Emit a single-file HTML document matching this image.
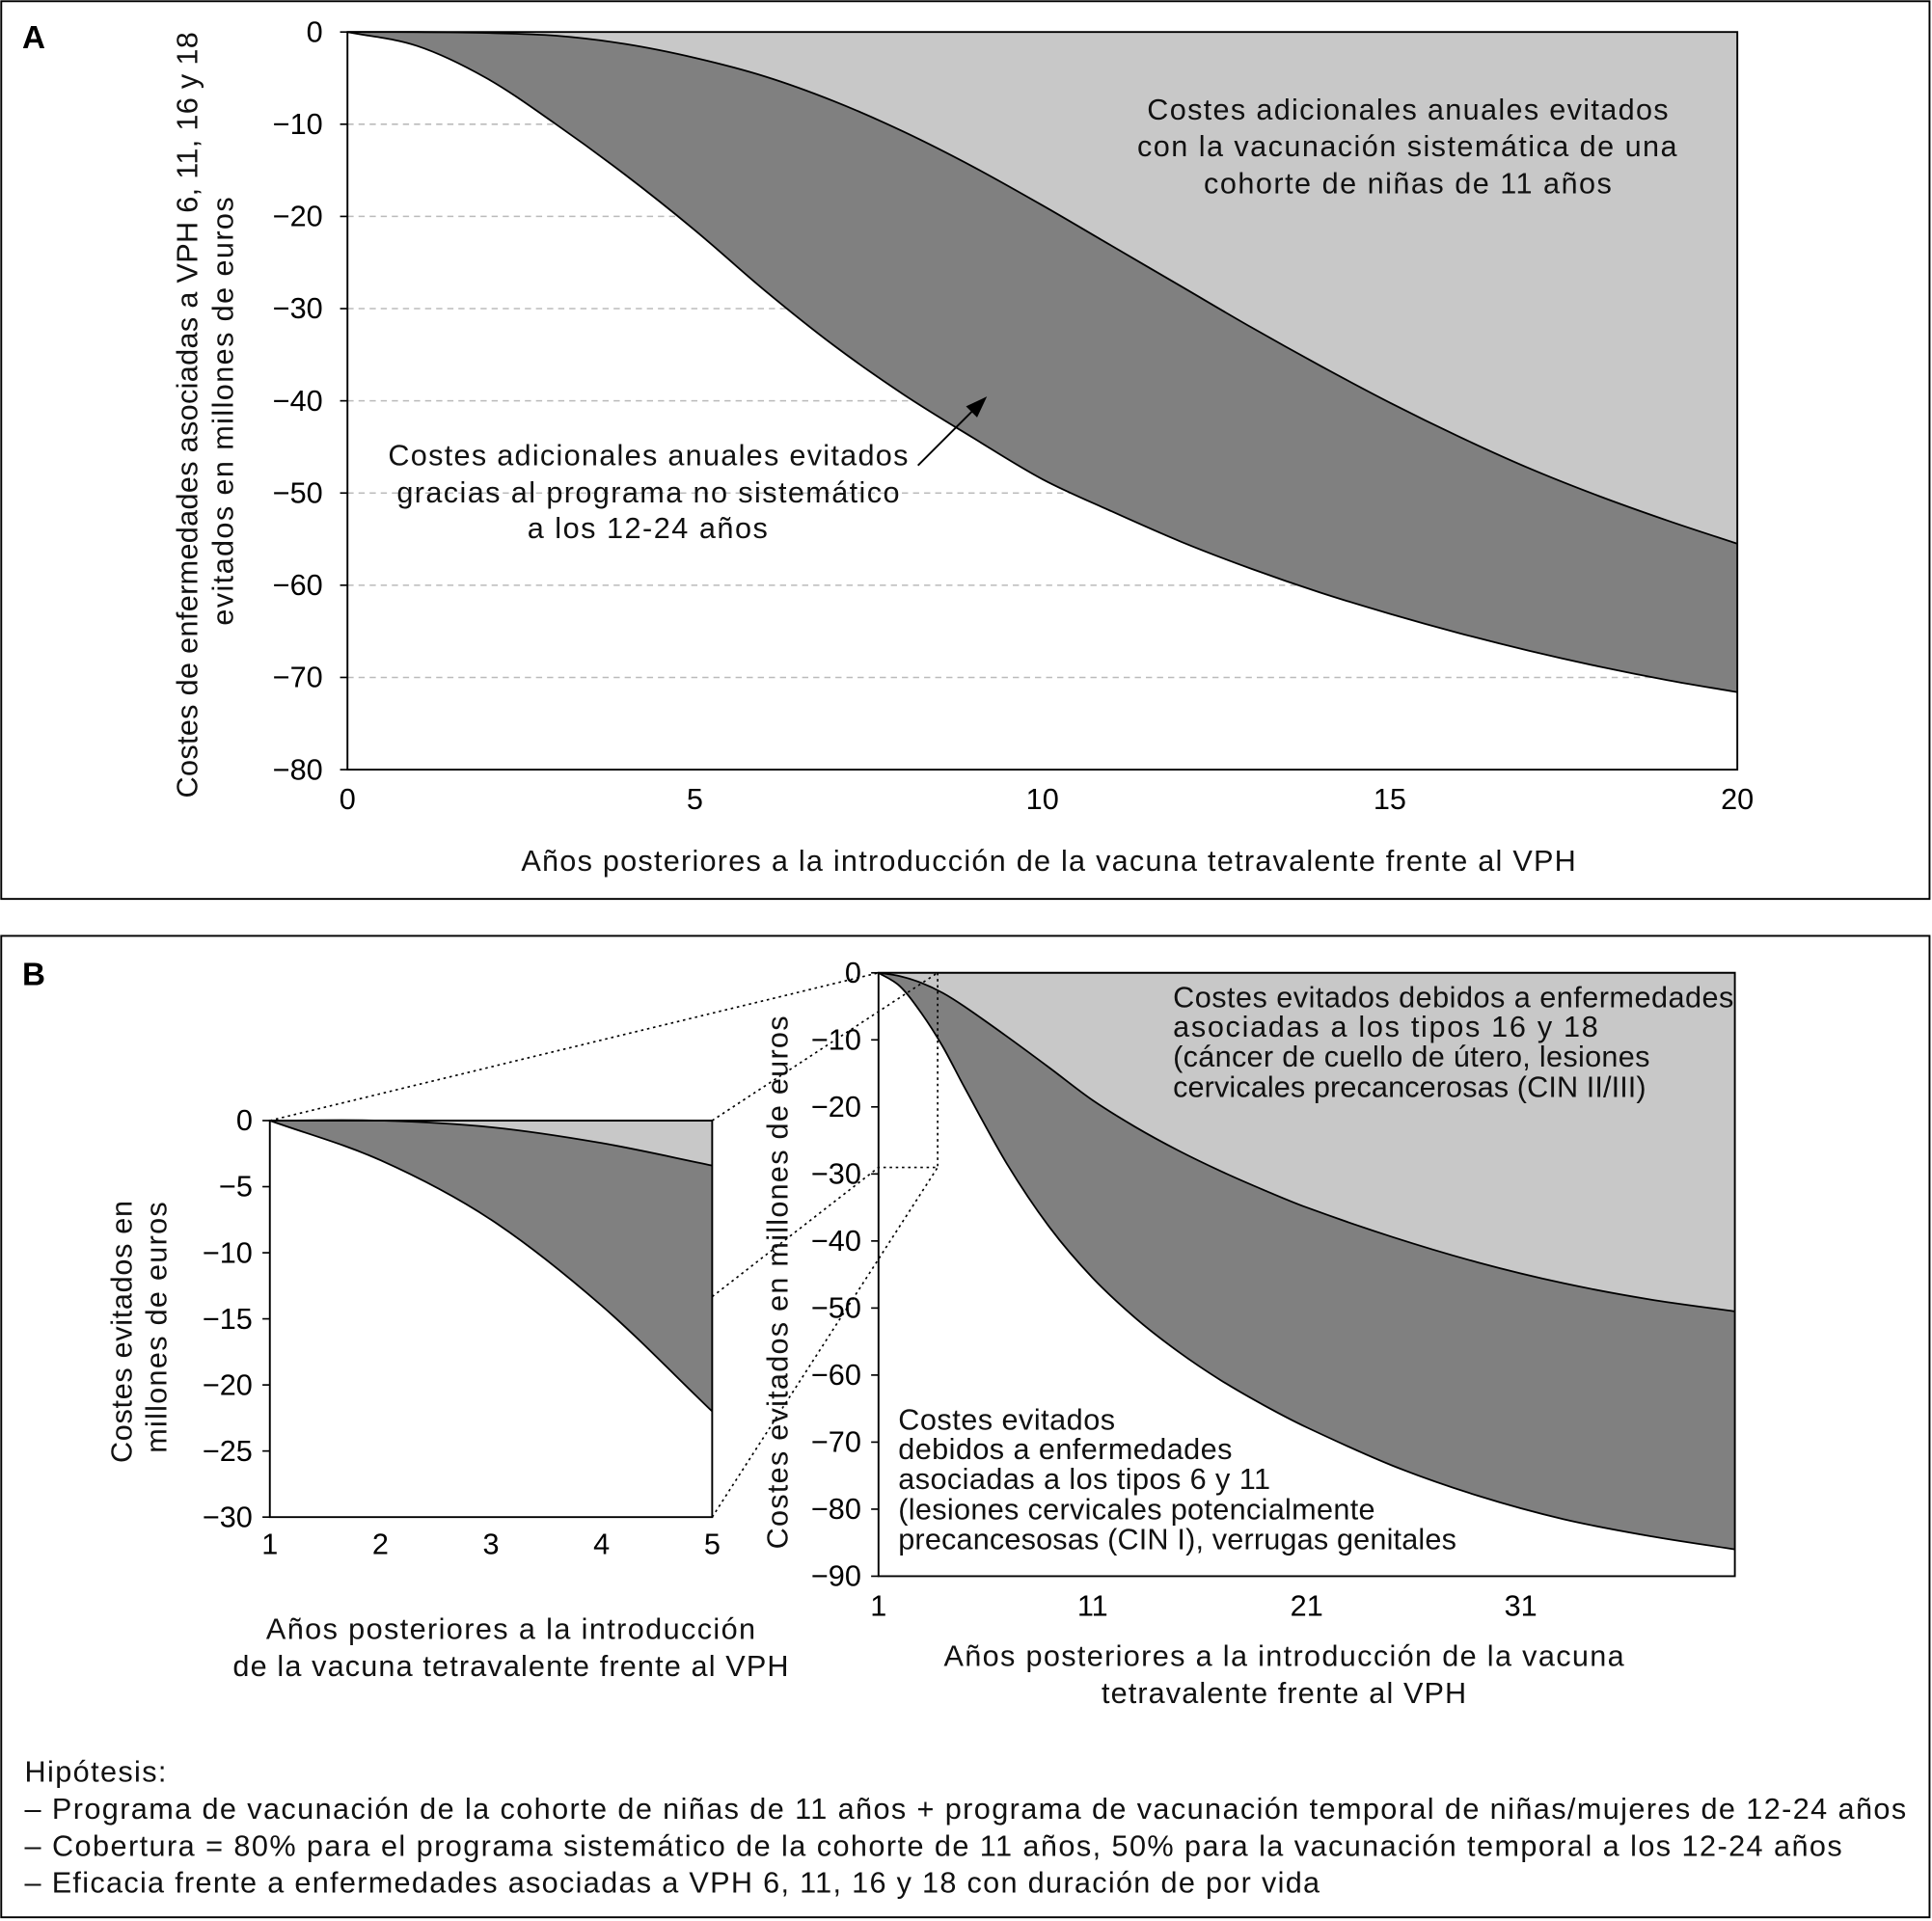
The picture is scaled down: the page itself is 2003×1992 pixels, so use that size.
<!DOCTYPE html>
<html><head><meta charset="utf-8"><style>
html,body{margin:0;padding:0;background:#fff}
svg{display:block;font-family:"Liberation Sans",Arial,sans-serif}
</style></head><body>
<svg id="fig" width="2003" height="1992" viewBox="0 0 1568 1560" preserveAspectRatio="none" xmlns="http://www.w3.org/2000/svg">
<rect x="1" y="1" width="1565" height="729" fill="none" stroke="#000" stroke-width="1.5"/>
<rect x="1" y="760" width="1565" height="797" fill="none" stroke="#000" stroke-width="1.5"/>
<text x="18" y="39" font-size="26" font-weight="bold">A</text>
<text x="18" y="800" font-size="26" font-weight="bold">B</text>
<g id="A"></g><g id="I"></g><g id="M"></g>
<g font-size="24" fill="#111" lengthAdjust="spacingAndGlyphs">
<text x="931" y="97" textLength="423">Costes adicionales anuales evitados</text>
<text x="923" y="127" textLength="438">con la vacunación sistemática de una</text>
<text x="977" y="157" textLength="331">cohorte de niñas de 11 años</text>
<text x="315" y="378" textLength="422">Costes adicionales anuales evitados</text>
<text x="322" y="408" textLength="408">gracias al programa no sistemático</text>
<text x="428" y="437" textLength="195">a los 12-24 años</text>
<text x="423" y="707" textLength="856">Años posteriores a la introducción de la vacuna tetravalente frente al VPH</text>
<text transform="translate(160,648) rotate(-90)" textLength="622">Costes de enfermedades asociadas a VPH 6, 11, 16 y 18</text>
<text transform="translate(189,508) rotate(-90)" textLength="348">evitados en millones de euros</text>
<text x="952" y="818" textLength="455">Costes evitados debidos a enfermedades</text>
<text x="952" y="842" textLength="345">asociadas a los tipos 16 y 18</text>
<text x="952" y="866" textLength="387">(cáncer de cuello de útero, lesiones</text>
<text x="952" y="891" textLength="384">cervicales precancerosas (CIN II/III)</text>
<text x="729" y="1161" textLength="176">Costes evitados</text>
<text x="729" y="1185" textLength="271">debidos a enfermedades</text>
<text x="729" y="1209" textLength="302">asociadas a los tipos 6 y 11</text>
<text x="729" y="1234" textLength="387">(lesiones cervicales potencialmente</text>
<text x="729" y="1258" textLength="453">precancesosas (CIN I), verrugas genitales</text>
<text x="216" y="1331" textLength="397">Años posteriores a la introducción</text>
<text x="189" y="1361" textLength="451">de la vacuna tetravalente frente al VPH</text>
<text transform="translate(107,1188) rotate(-90)" textLength="213">Costes evitados en</text>
<text transform="translate(135,1180) rotate(-90)" textLength="204">millones de euros</text>
<text x="766" y="1353" textLength="552">Años posteriores a la introducción de la vacuna</text>
<text x="894" y="1383" textLength="296">tetravalente frente al VPH</text>
<text transform="translate(639,1258) rotate(-90)" textLength="433">Costes evitados en millones de euros</text>
<text x="20" y="1447" textLength="115">Hipótesis:</text>
<text x="20" y="1477" textLength="1527">– Programa de vacunación de la cohorte de niñas de 11 años + programa de vacunación temporal de niñas/mujeres de 12-24 años</text>
<text x="20" y="1507" textLength="1475">– Cobertura = 80% para el programa sistemático de la cohorte de 11 años, 50% para la vacunación temporal a los 12-24 años</text>
<text x="20" y="1537" textLength="1051">– Eficacia frente a enfermedades asociadas a VPH 6, 11, 16 y 18 con duración de por vida</text>
</g>
<g>
<line x1="745" y1="378" x2="795" y2="328" stroke="#000" stroke-width="1.5"/>
<polygon points="801,322 784,330 793,339" fill="#000"/>
</g>
<g fill="none" stroke="#000" stroke-width="1.3" stroke-dasharray="2,3">
<line x1="219" y1="910" x2="713" y2="790"/>
<line x1="578" y1="910" x2="761" y2="790"/>
<line x1="578" y1="1053" x2="713" y2="948"/>
<line x1="578" y1="1232" x2="761" y2="948"/>
<polyline points="761,790 761,948 713,948"/>
</g>
</svg>
<script>
// Panel A data
const aYears=[0,1,2,3,4,5,6,7,8,9,10,11,12,13,14,15,16,17,18,19,20];
const aUpper=[0,0,-0.1,-0.4,-1.3,-2.8,-4.8,-7.5,-10.8,-14.6,-18.8,-23.2,-27.6,-32,-36.2,-40.2,-43.9,-47.3,-50.3,-53,-55.5];
const aLower=[0,-1.5,-5,-10,-15.5,-21.5,-28,-34,-39.3,-44,-48.5,-52,-55.3,-58.2,-60.8,-63.1,-65.2,-67.1,-68.8,-70.3,-71.6];
const aYTicks=[0,-10,-20,-30,-40,-50,-60,-70,-80];
const aXTicks=[0,5,10,15,20];
// Inset data
const iYears=[1,2,3,4,5];
const iUpper=[0,0,-0.5,-1.7,-3.4];
const iLower=[0,-3,-7.5,-14,-22];
const iYTicks=[0,-5,-10,-15,-20,-25,-30];
const iXTicks=[1,2,3,4,5];
// Main B data
const mYears=[1,2,3,4,5,7,9,11,13,15,17,19,21,25,29,33,37,41];
const mUpper=[0,-0.5,-1.5,-3,-5,-9.5,-14.2,-19,-23,-26.5,-29.6,-32.4,-35,-39.4,-43.2,-46.3,-48.7,-50.5];
const mLower=[0,-2,-6,-11,-17,-28.5,-38,-45.5,-51.5,-56.5,-60.8,-64.5,-67.8,-73.5,-78,-81.5,-84,-86];
const mYTicks=[0,-10,-20,-30,-40,-50,-60,-70,-80,-90];
const mXTicks=[1,11,21,31];

const NS="http://www.w3.org/2000/svg";
function mk(parent,tag,attrs){const e=document.createElementNS(NS,tag);for(const k in attrs)e.setAttribute(k,attrs[k]);parent.appendChild(e);return e;}
function spline(pts){let d="M"+pts[0][0]+","+pts[0][1];for(let i=0;i<pts.length-1;i++){const p0=pts[Math.max(i-1,0)],p1=pts[i],p2=pts[i+1],p3=pts[Math.min(i+2,pts.length-1)];
const h=p2[0]-p1[0];const s1=(p2[1]-p0[1])/(p2[0]-p0[0]||1),s2=(p3[1]-p1[1])/(p3[0]-p1[0]||1);
d+=" C"+(p1[0]+h/3)+","+(p1[1]+s1*h/3)+" "+(p2[0]-h/3)+","+(p2[1]-s2*h/3)+" "+p2[0]+","+p2[1];}return d;}
function chart(g,o){
  const sx=v=>o.x0+(v-o.xmin)/(o.xmax-o.xmin)*(o.x1-o.x0);
  const sy=v=>o.y0+(v-o.ymax)/(o.ymin-o.ymax)*(o.y1-o.y0);
  if(o.grid){o.yTicks.forEach(t=>{if(t!==o.ymax&&t!==o.ymin){const l=mk(g,'line',{x1:o.x0,x2:o.x1,y1:sy(t),y2:sy(t),stroke:'#bbb','stroke-width':1.2,'stroke-dasharray':'5,4'});

}});}
  const up=o.years.map((y,i)=>[sx(y),sy(o.upper[i])]);
  const lo=o.years.map((y,i)=>[sx(y),sy(o.lower[i])]);
  const xe=sx(o.years[o.years.length-1]),xs=sx(o.years[0]);
  const light=mk(g,'path',{d:spline(up)+" L"+xe+","+sy(o.ymax)+" L"+xs+","+sy(o.ymax)+"Z",fill:'#c8c8c8'});
  
  
  const loR=lo.slice().reverse();
  const dark=mk(g,'path',{d:spline(up)+" L"+loR[0][0]+","+loR[0][1]+spline(loR).replace(/^M[^ ]+/,'')+"Z",fill:'#808080'});
  
  
  const l1=mk(g,'path',{d:spline(up),fill:'none',stroke:'#000','stroke-width':1.4});
  
  
  const l2=mk(g,'path',{d:spline(lo),fill:'none',stroke:'#000','stroke-width':1.4});
  
  
  const fr=mk(g,'path',{d:`M${o.x0},${o.y0} H${o.x1} V${o.y1} H${o.x0}Z`,fill:'none',stroke:'#000','stroke-width':1.5});
  
  
  o.yTicks.forEach(t=>{const tx=mk(g,'text',{x:o.x0-o.ly,y:sy(t)+8,'text-anchor':'end','font-size':24});tx.textContent=(t<0?'\u2212'+(-t):''+t);


const tk=mk(g,'line',{x1:o.x0-6,x2:o.x0,y1:sy(t),y2:sy(t),stroke:'#000','stroke-width':1.3});

});
  o.xTicks.forEach(t=>{const tx=mk(g,'text',{x:sx(t),y:o.y1+o.lx,'text-anchor':'middle','font-size':24});tx.textContent=''+t;

});
}
const A=document.getElementById('A');


chart(A,{x0:282,x1:1410,y0:26,y1:625,xmin:0,xmax:20,ymax:0,ymin:-80,years:aYears,upper:aUpper,lower:aLower,yTicks:aYTicks,xTicks:aXTicks,grid:true,ly:20,lx:32,n1:'systematic',n2:'non-systematic'});
const I=document.getElementById('I');


chart(I,{x0:219,x1:578,y0:910,y1:1232,xmin:1,xmax:5,ymax:0,ymin:-30,years:iYears,upper:iUpper,lower:iLower,yTicks:iYTicks,xTicks:iXTicks,grid:false,ly:14,lx:30,n1:'types-16-18',n2:'types-6-11'});
const M=document.getElementById('M');


chart(M,{x0:713,x1:1408,y0:790,y1:1280,xmin:1,xmax:41,ymax:0,ymin:-90,years:mYears,upper:mUpper,lower:mLower,yTicks:mYTicks,xTicks:mXTicks,grid:false,ly:14,lx:32,n1:'types-16-18',n2:'types-6-11'});
</script>
</body></html>
